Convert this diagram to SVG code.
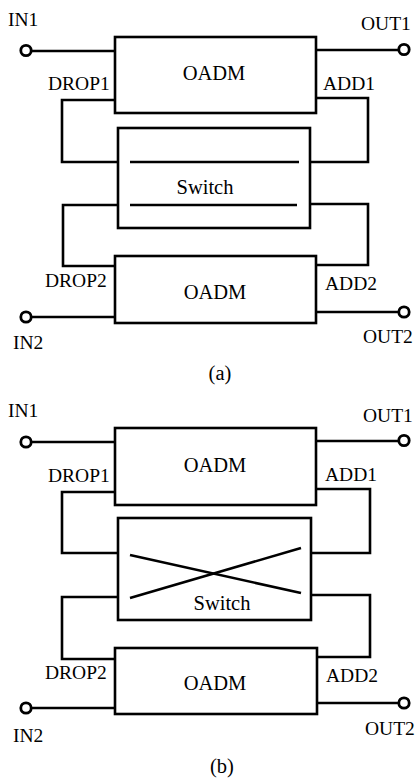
<svg xmlns="http://www.w3.org/2000/svg" width="418" height="779" viewBox="0 0 418 779" font-family="'Liberation Serif', 'DejaVu Serif', serif">
<style>
.box{fill:#fff;stroke:#000;stroke-width:2.6}
.ln{fill:none;stroke:#000;stroke-width:2.6}
.port{fill:#fff;stroke:#000;stroke-width:2.8}
text{font-family:'Liberation Serif','DejaVu Serif',serif;fill:#000}
.lab{font-size:19.5px}
.big{font-size:20.5px}
</style>
<rect width="418" height="779" fill="#fff"/>
<!-- (a) -->
<g id="connectors-a">
<line class="ln" x1="31" y1="51" x2="115" y2="51"/>
<line class="ln" x1="316" y1="50" x2="399" y2="50"/>
<polyline class="ln" points="115,100 62,100 62,162 118,162"/>
<polyline class="ln" points="316,98 368,98 368,162 310,162"/>
<polyline class="ln" points="118,205 63,205 63,266 115,266"/>
<polyline class="ln" points="310,204 368,204 368,265 316,265"/>
<line class="ln" x1="31" y1="317" x2="115" y2="317"/>
<line class="ln" x1="316" y1="312" x2="398" y2="312"/>
</g>
<g id="oadm1-a"><rect class="box" x="115" y="37" width="201" height="76"/><text class="big" x="214" y="80" text-anchor="middle">OADM</text></g>
<g id="switch-a"><rect class="box" x="118" y="128" width="192" height="100"/>
<line class="ln" x1="130" y1="162" x2="299" y2="162"/><line class="ln" x1="130" y1="205" x2="297" y2="205"/>
<text class="big" x="205" y="194" text-anchor="middle">Switch</text></g>
<g id="oadm2-a"><rect class="box" x="115" y="256" width="201" height="67"/><text class="big" x="215" y="299" text-anchor="middle">OADM</text></g>
<g id="in1-a"><circle class="port" cx="26" cy="50.5" r="5.2"/><text class="lab" x="8" y="26">IN1</text></g>
<g id="out1-a"><circle class="port" cx="404" cy="49.5" r="5.2"/><text class="lab" x="361" y="30">OUT1</text></g>
<g id="drop1-a"><text class="lab" x="48" y="90">DROP1</text></g>
<g id="add1-a"><text class="lab" x="323" y="90">ADD1</text></g>
<g id="drop2-a"><text class="lab" x="45" y="287">DROP2</text></g>
<g id="add2-a"><text class="lab" x="325" y="290">ADD2</text></g>
<g id="in2-a"><circle class="port" cx="26" cy="317" r="5.2"/><text class="lab" x="13" y="349">IN2</text></g>
<g id="out2-a"><circle class="port" cx="404" cy="312" r="5.2"/><text class="lab" x="363" y="343">OUT2</text></g>
<text class="big" x="220" y="380" text-anchor="middle">(a)</text>
<!-- (b) -->
<g id="connectors-b">
<line class="ln" x1="31" y1="442" x2="115" y2="442"/>
<line class="ln" x1="316" y1="441" x2="399" y2="441"/>
<polyline class="ln" points="115,492 62,492 62,553 118,553"/>
<polyline class="ln" points="316,489 370,489 370,553 311,553"/>
<polyline class="ln" points="118,597 62,597 62,659 115,659"/>
<polyline class="ln" points="311,595 370,595 370,657 317,657"/>
<line class="ln" x1="31" y1="708" x2="115" y2="708"/>
<line class="ln" x1="317" y1="703" x2="398" y2="703"/>
</g>
<g id="oadm1-b"><rect class="box" x="115" y="428" width="201" height="77"/><text class="big" x="215" y="472" text-anchor="middle">OADM</text></g>
<g id="switch-b"><rect class="box" x="118" y="518" width="193" height="102"/>
<line class="ln" x1="130" y1="555" x2="301" y2="593"/><line class="ln" x1="130" y1="598" x2="301" y2="548"/>
<text class="big" x="222" y="610" text-anchor="middle">Switch</text></g>
<g id="oadm2-b"><rect class="box" x="115" y="648" width="202" height="66"/><text class="big" x="215" y="690" text-anchor="middle">OADM</text></g>
<g id="in1-b"><circle class="port" cx="26" cy="442" r="5.2"/><text class="lab" x="8" y="417">IN1</text></g>
<g id="out1-b"><circle class="port" cx="404" cy="440.5" r="5.2"/><text class="lab" x="363" y="422">OUT1</text></g>
<g id="drop1-b"><text class="lab" x="48" y="482">DROP1</text></g>
<g id="add1-b"><text class="lab" x="325" y="481">ADD1</text></g>
<g id="drop2-b"><text class="lab" x="45" y="679">DROP2</text></g>
<g id="add2-b"><text class="lab" x="326" y="682">ADD2</text></g>
<g id="in2-b"><circle class="port" cx="26" cy="708" r="5.2"/><text class="lab" x="13" y="742">IN2</text></g>
<g id="out2-b"><circle class="port" cx="404" cy="703" r="5.2"/><text class="lab" x="365" y="735">OUT2</text></g>
<text class="big" x="222" y="773" text-anchor="middle">(b)</text>
</svg>
